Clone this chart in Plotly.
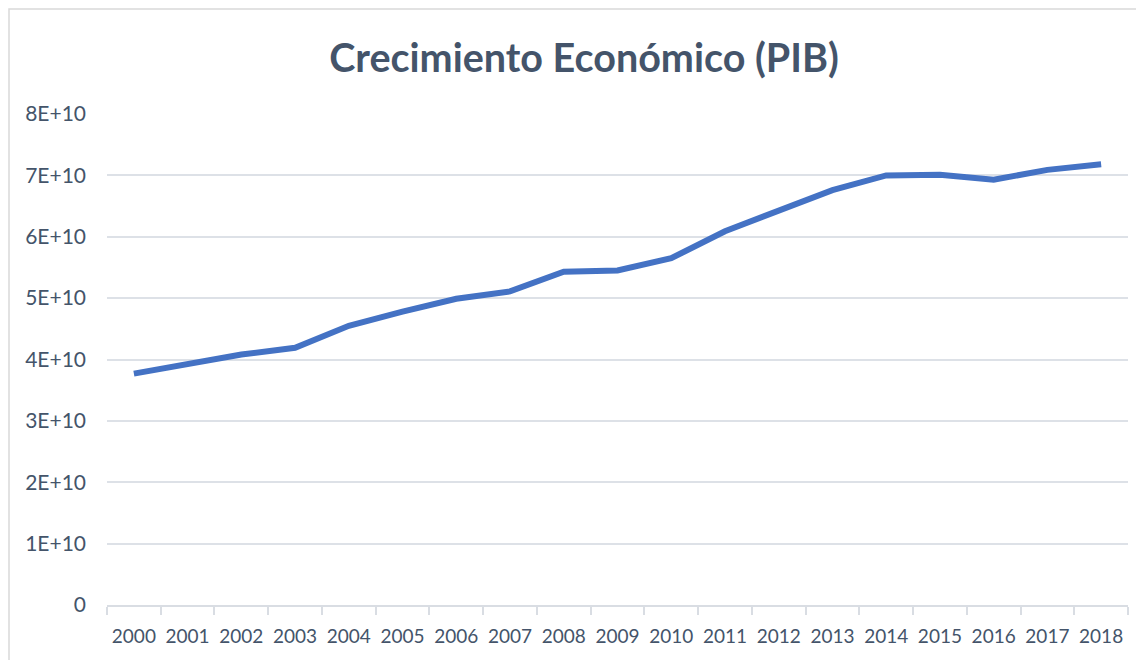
import plotly.graph_objects as go

years = [str(y) for y in range(2000, 2019)]
pib = [3.77e10, 3.92e10, 4.08e10, 4.19e10, 4.55e10, 4.78e10, 4.99e10, 5.11e10, 5.43e10,
       5.45e10, 5.65e10, 6.09e10, 6.43e10, 6.76e10, 7.00e10, 7.01e10, 6.93e10, 7.09e10, 7.18e10]
ytick_vals = [0, 1e10, 2e10, 3e10, 4e10, 5e10, 6e10, 7e10, 8e10]
ytick_text = ["0", "1E+10", "2E+10", "3E+10", "4E+10", "5E+10", "6E+10", "7E+10", "8E+10"]
title_text = "Crecimiento Económico (PIB)"

# page body has an 8px margin, so figure coordinates are reference minus 8
W, H = 1136, 652
L, R, T, B = 99, 16, 106, 55
pw, ph = W - L - R, H - T - B

fig = go.Figure()
fig.add_trace(go.Scatter(
    x=years, y=pib, mode="lines",
    line=dict(color="#4472C4", width=6, shape="linear"),
    hoverinfo="x+y",
))

txt_color = "#44546A"
fam = "Lato, 'Open Sans', sans-serif"
fig.update_layout(
    width=W, height=H,
    margin=dict(l=L, r=R, t=T, b=B, autoexpand=False),
    paper_bgcolor="white", plot_bgcolor="white",
    showlegend=False,
    font=dict(family=fam, color=txt_color, size=20),
    title=dict(text="<b>" + title_text + "</b>", x=576 / W, xref="container", xanchor="center",
               y=1 - 50 / H, yref="container", yanchor="middle",
               font=dict(size=39.5, color=txt_color, family=fam)),
    xaxis=dict(
        type="category", showgrid=False, showline=True, linecolor="#D9DDE3", linewidth=2,
        ticks="outside", tickson="boundaries", ticklen=8, tickcolor="#D9DDE3", tickwidth=2,
        tickfont=dict(size=19, color=txt_color), range=[-0.5, 18.5],
        tickangle=0, automargin=False, ticklabelstandoff=13,
    ),
    yaxis=dict(
        range=[0, 8e10], tickvals=ytick_vals, ticktext=ytick_text,
        showgrid=True, gridcolor="#DDE1E7", gridwidth=2, zeroline=False,
        showline=False, ticks="", ticklabelstandoff=20, automargin=False,
        tickfont=dict(size=21, color=txt_color),
    ),
    shapes=[dict(
        type="rect", xref="paper", yref="paper", layer="below",
        x0=(1 - L) / pw, x1=(W + 5 - L) / pw,
        y0=-(B + 5) / ph, y1=(H - B - 1) / ph,
        line=dict(color="#D9D9D9", width=1.5), fillcolor="rgba(0,0,0,0)",
    )],
)

fig.write_html("out.html")
